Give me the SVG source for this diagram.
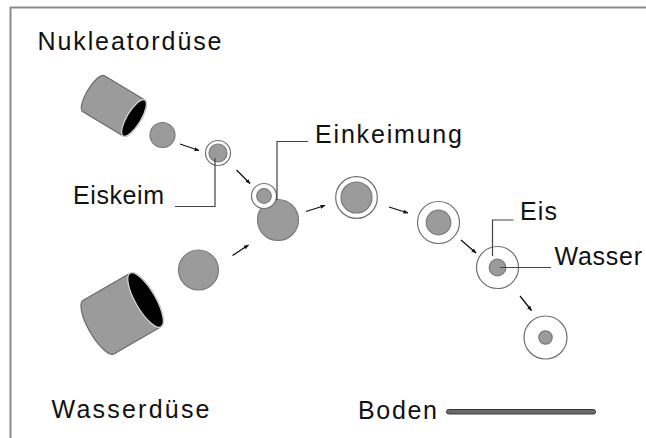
<svg xmlns="http://www.w3.org/2000/svg" width="646" height="438" viewBox="0 0 646 438">
  <defs>
    <marker id="head" viewBox="0 0 10 10" refX="9" refY="5" markerWidth="5" markerHeight="5" orient="auto" markerUnits="userSpaceOnUse">
      <path d="M0,1 L10,5 L0,9 Z" fill="#111"/>
    </marker>
    <style>
      .lbl { font-family: "Liberation Sans", Arial, sans-serif; font-size: 25px; fill: #111; }
      .frame { stroke: #8a8a8a; stroke-width: 2; fill: none; }
      .drop { fill: #9b9b9b; stroke: #7a7a7a; stroke-width: 1.2; }
      .shell { fill: #fff; stroke: #6f6f6f; stroke-width: 1.2; }
      .body { fill: #9b9b9b; stroke: #6a6a6a; stroke-width: 1.2; }
      .mouth { fill: #000; stroke: #d8d8d8; stroke-width: 1.2; }
      .arrow { stroke: #111; stroke-width: 1.3; fill: none; marker-end: url(#head); }
      .leader { stroke: #444; stroke-width: 1.2; fill: none; }
      .ground { fill: #6a6a6a; stroke: #3a3a3a; stroke-width: 1; }
    </style>
  </defs>

  <rect width="646" height="438" fill="#fff"/>

  <!-- frame (top and left edges) -->
  <path class="frame" d="M10.5,438 V7.5 H646"/>

  <!-- nucleator nozzle -->
  <g id="nukleatorduese">
    <g transform="translate(134,118) rotate(31)">
      <path class="body" d="M-47,-21 L0,-21 A7,21 0 0 1 0,21 L-47,21 A7,21 0 0 1 -47,-21 Z"/>
      <ellipse class="mouth" cx="0" cy="0" rx="7" ry="21"/>
    </g>
    <text class="lbl" x="37.5" y="50" textLength="184" lengthAdjust="spacing">Nukleatordüse</text>
  </g>

  <!-- water nozzle -->
  <g id="wasserduese">
    <g transform="translate(145.5,300) rotate(-30)">
      <path class="body" d="M-54,-31 L0,-31 A10,31 0 0 1 0,31 L-54,31 A10,31 0 0 1 -54,-31 Z"/>
      <ellipse class="mouth" cx="0" cy="0" rx="10" ry="31"/>
    </g>
    <text class="lbl" x="51.5" y="418" textLength="158" lengthAdjust="spacing">Wasserdüse</text>
  </g>

  <!-- nucleator droplet -->
  <g id="nukleator-tropfen">
    <circle class="drop" cx="162.5" cy="135" r="12.5"/>
  </g>

  <!-- water droplet -->
  <g id="wasser-tropfen">
    <circle class="drop" cx="198.5" cy="270" r="20"/>
  </g>

  <!-- ice nucleus -->
  <g id="eiskeim">
    <circle class="shell" cx="218" cy="153" r="12.5"/>
    <circle class="drop" cx="218" cy="153" r="9"/>
    <text class="lbl" x="73" y="204" textLength="91" lengthAdjust="spacing">Eiskeim</text>
  </g>

  <!-- nucleation: droplet meets ice nucleus -->
  <g id="einkeimung">
    <circle class="drop" cx="278" cy="220" r="20.5"/>
    <circle class="shell" cx="264" cy="196" r="12.5"/>
    <circle class="drop" cx="264" cy="196" r="7.3"/>
    <text class="lbl" x="315" y="143" textLength="147" lengthAdjust="spacing">Einkeimung</text>
  </g>

  <!-- freezing stages -->
  <g id="stufe-1">
    <circle class="shell" cx="356.5" cy="197.5" r="20.8"/>
    <circle class="drop" cx="356.5" cy="197.5" r="15.5"/>
  </g>
  <g id="stufe-2">
    <circle class="shell" cx="438.5" cy="222.5" r="21"/>
    <circle class="drop" cx="438.5" cy="222.5" r="12.3"/>
  </g>
  <g id="stufe-3">
    <circle class="shell" cx="497.5" cy="267.5" r="21"/>
    <circle class="drop" cx="497.5" cy="267.5" r="8.3"/>
    <text class="lbl" x="520" y="220" textLength="37" lengthAdjust="spacing">Eis</text>
    <text class="lbl" x="554.5" y="265" textLength="87.5" lengthAdjust="spacing">Wasser</text>
  </g>
  <g id="stufe-4">
    <circle class="shell" cx="545.5" cy="337.5" r="21.5"/>
    <circle class="drop" cx="545.5" cy="337.5" r="6.7"/>
  </g>

  <!-- ground -->
  <g id="boden">
    <rect class="ground" x="446.5" y="409.5" width="149" height="4.5" rx="2"/>
    <text class="lbl" x="358" y="419" textLength="79" lengthAdjust="spacing">Boden</text>
  </g>

  <!-- connectors: flight arrows and label leaders -->
  <g id="verbindungen">
    <line class="arrow" x1="180" y1="144" x2="199" y2="150.5"/>
    <line class="arrow" x1="236.5" y1="170" x2="250" y2="183.5"/>
    <line class="arrow" x1="232.5" y1="255.5" x2="248.5" y2="245"/>
    <line class="arrow" x1="306" y1="211.5" x2="325" y2="205.5"/>
    <line class="arrow" x1="389" y1="207" x2="408" y2="213"/>
    <line class="arrow" x1="461" y1="240" x2="476" y2="253"/>
    <line class="arrow" x1="520" y1="296" x2="531.5" y2="310.5"/>

    <polyline class="leader" points="215,158 215,206.5 175,206.5"/>
    <polyline class="leader" points="277,200 277,141.5 308,141.5"/>
    <polyline class="leader" points="492.5,256 492.5,220 513.5,220"/>
    <line class="leader" x1="500" y1="267.5" x2="551" y2="267.5"/>
  </g>
</svg>
